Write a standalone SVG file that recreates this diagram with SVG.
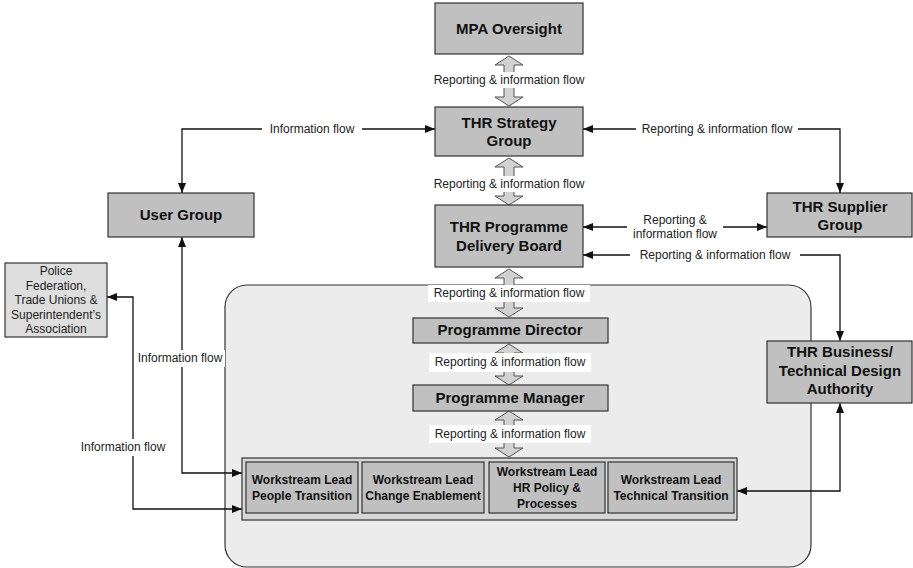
<svg xmlns="http://www.w3.org/2000/svg" width="913" height="568" viewBox="0 0 913 568">
  <style>
    .box { fill: #c0c0c0; stroke: #333; stroke-width: 1.2; }
    .lite { fill: #dedede; stroke: #333; stroke-width: 1.2; }
    .title { font-family: "Liberation Sans", Arial, sans-serif; font-weight: bold; font-size: 15px; fill: #111; text-anchor: middle; }
    .ws { font-family: "Liberation Sans", Arial, sans-serif; font-weight: bold; font-size: 12px; fill: #111; text-anchor: middle; }
    .lbl { font-family: "Liberation Sans", Arial, sans-serif; font-size: 12px; fill: #222; text-anchor: middle; }
    .conn { fill: none; stroke: #111; stroke-width: 1.3; marker-start: url(#head); marker-end: url(#head); }
    .one { fill: none; stroke: #111; stroke-width: 1.3; }
    .flow { fill: #d2d2d2; stroke: #444; stroke-width: 0.9; }
    .bg { fill: #fff; }
  </style>
  <defs>
    <marker id="head" viewBox="0 0 10 8" refX="10" refY="4" markerWidth="10" markerHeight="8" markerUnits="userSpaceOnUse" orient="auto-start-reverse">
      <path d="M0,0 L10,4 L0,8 z" fill="#111"/>
    </marker>
  </defs>

  <!-- programme team container -->
  <rect id="programme-team" x="225" y="285" width="586" height="282" rx="22" ry="22" fill="#ececec" stroke="#333" stroke-width="1.2"/>

  <!-- connectors -->
  <g id="connectors">
    <!-- Strategy Group <-> User Group -->
    <path class="conn" d="M435,129 H182 V193"/>
    <rect class="bg" x="262" y="121" width="100" height="16"/>
    <text class="lbl" x="312" y="133">Information flow</text>

    <!-- Strategy Group <-> Supplier Group -->
    <path class="conn" d="M583,129 H840 V193"/>
    <rect class="bg" x="636" y="121" width="162" height="16"/>
    <text class="lbl" x="717" y="133">Reporting &amp; information flow</text>

    <!-- Delivery Board <-> Supplier Group -->
    <path class="conn" d="M583,227 H767"/>
    <rect class="bg" x="627" y="211" width="96" height="30"/>
    <text class="lbl" x="675" y="224">Reporting &amp;</text>
    <text class="lbl" x="675" y="238">information flow</text>

    <!-- Delivery Board <-> Business/Technical Design Authority -->
    <path class="conn" d="M583,255 H840 V341"/>
    <rect class="bg" x="630" y="247" width="170" height="16"/>
    <text class="lbl" x="715" y="259">Reporting &amp; information flow</text>

    <!-- Design Authority <-> Technical Transition -->
    <path class="conn" d="M840,403 V491 H737"/>

    <!-- User Group <-> People Transition -->
    <path class="conn" d="M182,237 V473 H242"/>
    <rect class="bg" x="136" y="350" width="89" height="17"/>
    <text class="lbl" x="180" y="362">Information flow</text>

    <!-- Police Federation <-> People Transition -->
    <path class="conn" d="M107,297 H133 V509 H242"/>
    <rect class="bg" x="78" y="439" width="90" height="17"/>
    <text class="lbl" x="123" y="451">Information flow</text>

    <!-- wide reporting arrows on the central spine -->
    <polygon class="flow" points="509,56 523,65 514,65 514,97 523,97 509,106 495,97 504,97 504,65 495,65"/>
    <rect class="bg" x="430" y="72" width="158" height="16"/>
    <text class="lbl" x="509" y="84">Reporting &amp; information flow</text>

    <polygon class="flow" points="509,158 523,167 514,167 514,196 523,196 509,205 495,196 504,196 504,167 495,167"/>
    <rect class="bg" x="430" y="176" width="158" height="16"/>
    <text class="lbl" x="509" y="188">Reporting &amp; information flow</text>

    <polygon class="flow" points="509,269 523,278 514,278 514,308 523,308 509,317 495,308 504,308 504,278 495,278"/>
    <rect class="bg" x="428" y="285" width="162" height="17"/>
    <text class="lbl" x="509" y="297">Reporting &amp; information flow</text>

    <polygon class="flow" points="509,344 523,353 514,353 514,376 523,376 509,385 495,376 504,376 504,353 495,353"/>
    <rect class="bg" x="429" y="353" width="162" height="19"/>
    <text class="lbl" x="510" y="366">Reporting &amp; information flow</text>

    <polygon class="flow" points="509,411 523,420 514,420 514,448 523,448 509,457 495,448 504,448 504,420 495,420"/>
    <rect class="bg" x="429" y="425" width="162" height="18"/>
    <text class="lbl" x="510" y="438">Reporting &amp; information flow</text>
  </g>

  <!-- nodes -->
  <g id="mpa-oversight">
    <rect class="box" x="435" y="3" width="148" height="51"/>
    <text class="title" x="509" y="34">MPA Oversight</text>
  </g>

  <g id="strategy-group">
    <rect class="box" x="435" y="107" width="148" height="49"/>
    <text class="title" x="509" y="128">THR Strategy</text>
    <text class="title" x="509" y="146">Group</text>
  </g>

  <g id="delivery-board">
    <rect class="box" x="435" y="205" width="148" height="62"/>
    <text class="title" x="509" y="232">THR Programme</text>
    <text class="title" x="509" y="251">Delivery Board</text>
  </g>

  <g id="user-group">
    <rect class="box" x="108" y="193" width="146" height="44"/>
    <text class="title" x="181" y="220">User Group</text>
  </g>

  <g id="supplier-group">
    <rect class="box" x="767" y="193" width="145" height="44"/>
    <text class="title" x="840" y="212">THR Supplier</text>
    <text class="title" x="840" y="230">Group</text>
  </g>

  <g id="design-authority">
    <rect class="box" x="767" y="341" width="145" height="62"/>
    <text class="title" x="840" y="357">THR Business/</text>
    <text class="title" x="840" y="376">Technical Design</text>
    <text class="title" x="840" y="394">Authority</text>
  </g>

  <g id="police-federation">
    <rect class="lite" x="5" y="263" width="102" height="74"/>
    <text class="lbl" x="56" y="275">Police</text>
    <text class="lbl" x="56" y="290">Federation,</text>
    <text class="lbl" x="56" y="304">Trade Unions &amp;</text>
    <text class="lbl" x="56" y="319">Superintendent’s</text>
    <text class="lbl" x="56" y="333">Association</text>
  </g>

  <g id="programme-director">
    <rect class="box" x="413" y="318" width="195" height="25"/>
    <text class="title" x="510" y="335">Programme Director</text>
  </g>

  <g id="programme-manager">
    <rect class="box" x="413" y="385" width="195" height="26"/>
    <text class="title" x="510" y="403">Programme Manager</text>
  </g>

  <g id="workstreams">
    <rect x="242" y="458" width="495" height="62" fill="#d6d6d6" stroke="#333" stroke-width="1.2"/>
    <g id="ws-people">
      <rect class="box" x="246" y="462" width="112" height="51"/>
      <text class="ws" x="302" y="484">Workstream Lead</text>
      <text class="ws" x="302" y="500">People Transition</text>
    </g>
    <g id="ws-change">
      <rect class="box" x="362" y="462" width="122" height="51"/>
      <text class="ws" x="423" y="484">Workstream Lead</text>
      <text class="ws" x="423" y="500">Change Enablement</text>
    </g>
    <g id="ws-hr-policy">
      <rect class="box" x="489" y="462" width="116" height="51"/>
      <text class="ws" x="547" y="476">Workstream Lead</text>
      <text class="ws" x="547" y="492">HR Policy &amp;</text>
      <text class="ws" x="547" y="508">Processes</text>
    </g>
    <g id="ws-technical">
      <rect class="box" x="608" y="462" width="126" height="51"/>
      <text class="ws" x="671" y="484">Workstream Lead</text>
      <text class="ws" x="671" y="500">Technical Transition</text>
    </g>
  </g>
</svg>
